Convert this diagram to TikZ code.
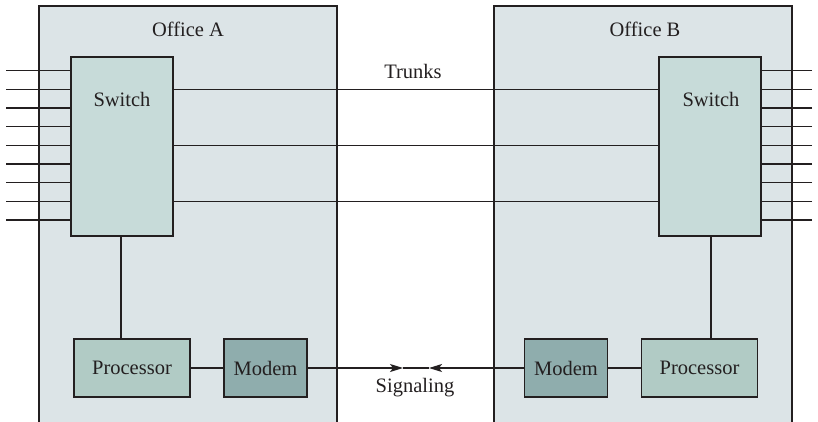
\documentclass[tikz,border=0pt]{standalone}
\usepackage{fontspec}
\setmainfont{Liberation Serif}
\usetikzlibrary{arrows.meta}
\definecolor{officefill}{HTML}{DCE4E7}
\definecolor{switchfill}{HTML}{C7DBD9}
\definecolor{procfill}{HTML}{B1CBC5}
\definecolor{modemfill}{HTML}{8FADAD}
\definecolor{ink}{HTML}{231F20}
\begin{document}
\begin{tikzpicture}[x=1pt,y=-1pt,
  line width=1.4pt, draw=ink,
  every node/.style={text=ink, font=\fontsize{20.5}{24}\selectfont},
  officebox/.style={draw=ink, fill=officefill, line width=1.4pt},
  switchbox/.style={draw=ink, fill=switchfill, line width=1.4pt},
  procbox/.style={draw=ink, fill=procfill, line width=1.4pt, minimum width=116pt, minimum height=58pt, inner sep=0pt},
  modembox/.style={draw=ink, fill=modemfill, line width=1.4pt, minimum width=83pt, minimum height=58pt, inner sep=0pt},
  wire/.style={draw=ink, line width=1.4pt},
  sigarrow/.style={draw=ink, line width=1.4pt, -{Stealth[length=13pt,width=8pt,inset=3pt]}},
  lbl/.style={inner sep=0pt}
]
\useasboundingbox (0,0) rectangle (818,422);
\clip (0,0) rectangle (818,422);
\fill[white] (0,0) rectangle (818,422);
% offices
\draw[officebox] (39,6) rectangle (337,440);
\draw[officebox] (494,6) rectangle (792,440);
\node[lbl] (offA) at (188,29) {Office A};
\node[lbl] (offB) at (645,29) {Office B};
% switches
\node[switchbox, minimum width=102pt, minimum height=179pt, inner sep=0pt] (swA) at (122,146.5) {};
\node[switchbox, minimum width=102pt, minimum height=179pt, inner sep=0pt] (swB) at (710,146.5) {};
\node[lbl] (swAt) at (122,99) {Switch};
\node[lbl] (swBt) at (711,99) {Switch};
% subscriber lines
\foreach \i in {0,...,8}{
  \coordinate (la\i) at (6,{70.7+18.67*\i});
  \coordinate (lb\i) at (812,{70.7+18.67*\i});
  \draw[wire] (la\i) -- (la\i -| swA.west);
  \draw[wire] (lb\i) -- (lb\i -| swB.east);
}
% trunks
\foreach \i in {1,4,7}{
  \draw[wire] (la\i -| swA.east) -- (la\i -| swB.west);
}
\node[lbl] (trunks) at (413,71) {Trunks};
% processors and modems
\node[procbox] (procA) at (132,368) {Processor};
\node[modembox] (modA) at (265.5,368) {Modem};
\node[modembox] (modB) at (566,368) {Modem};
\node[procbox] (procB) at (699.5,368) {Processor};
\draw[wire] (swA.south -| 121,0) -- (procA.north -| 121,0);
\draw[wire] (swB.south -| 711,0) -- (procB.north -| 711,0);
\draw[wire] (procA) -- (modA);
\draw[wire] (modB) -- (procB);
% signaling
\coordinate (tipA) at (403,368);
\coordinate (tipB) at (429,368);
\draw[wire] (tipA) -- (tipB);
\draw[sigarrow] (modA) -- (tipA);
\draw[sigarrow] (modB) -- (tipB);
\node[lbl] (sig) at (415,388) {Signaling};
\end{tikzpicture}
\end{document}
